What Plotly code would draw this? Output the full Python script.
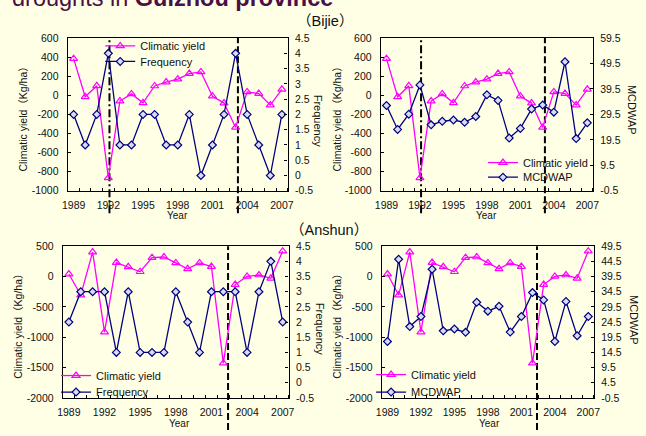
import plotly.graph_objects as go

# ---------------- data ----------------
years = list(range(1989, 2008))
year_ticks = [1989, 1992, 1995, 1998, 2001, 2004, 2007]

bijie_yield = [385, -15, 100, -865, -60, 15, -78, 98, 139, 170, 228, 246, -9, -81, -336, 36, 19, -102, 63]
bijie_freq = [2, 1, 2, 4, 1, 1, 2, 2, 1, 1, 2, 0, 1, 2, 4, 2, 1, 0, 2]
bijie_mcdwap = [33.0, 23.6, 29.6, 41.1, 25.4, 26.8, 27.3, 26.4, 28.7, 37.2, 35.0, 20.2, 24.0, 31.6, 33.2, 30.4, 50.2, 20.0, 26.2]

anshun_yield = [41, -305, 403, -915, 230, 160, 79, 311, 322, 225, 127, 225, 165, -1428, -132, 3, 25, -29, 419]
anshun_freq = [2, 3, 3, 3, 1, 3, 1, 1, 1, 3, 2, 1, 3, 3, 3, 1, 3, 4, 2]
anshun_mcdwap = [18.1, 45.2, 23.0, 26.3, 41.9, 21.6, 22.2, 21.1, 31.0, 28.1, 29.7, 21.2, 26.3, 34.2, 31.8, 18.1, 31.3, 20.0, 26.3]

bijie_drought_dashdot = [1992.1]
bijie_drought_dash = [2003.2]
anshun_drought_dash = [2002.4]

yield_ticks_bijie = [-1000, -800, -600, -400, -200, 0, 200, 400, 600]
yield_ticks_anshun = [-2000, -1500, -1000, -500, 0, 500]
freq_ticks = [-0.5, 0, 0.5, 1, 1.5, 2, 2.5, 3, 3.5, 4, 4.5]
mcdwap_ticks_bijie = [-0.5, 9.5, 19.5, 29.5, 39.5, 49.5, 59.5]
mcdwap_ticks_anshun = [-0.5, 4.5, 9.5, 14.5, 19.5, 24.5, 29.5, 34.5, 39.5, 44.5, 49.5]

# ---------------- styling ----------------
W, H = 646, 436
BG = "#FFFFE6"
FONT = "Arial, Liberation Sans, Noto Sans CJK SC, sans-serif"
MAG = "#FF00FF"
NAVY = "#000080"
TXT = "#111111"


def px(x):
    return x / W


def py(y):
    return 1 - y / H


def fmt(v):
    return "%g" % v


fig = go.Figure()

panels = [
    dict(box=(63, 287, 33, 190), y1=bijie_yield, y2=bijie_freq, name2="Frequency",
         lt=yield_ticks_bijie, lr=[-1000, 600], rt=freq_ticks, rr=[-0.5, 4.5],
         leg=(138, 41, 57)),
    dict(box=(382, 598, 33, 190), y1=bijie_yield, y2=bijie_mcdwap, name2="MCDWAP",
         lt=yield_ticks_bijie, lr=[-1000, 600], rt=mcdwap_ticks_bijie, rr=[-0.5, 59.5],
         leg=(528, 161, 176)),
    dict(box=(58, 288, 247, 403), y1=anshun_yield, y2=anshun_freq, name2="Frequency",
         lt=yield_ticks_anshun, lr=[-2000, 500], rt=freq_ticks, rr=[-0.5, 4.5],
         leg=(93, 380, 397)),
    dict(box=(383, 599, 247, 403), y1=anshun_yield, y2=anshun_mcdwap, name2="MCDWAP",
         lt=yield_ticks_anshun, lr=[-2000, 500], rt=mcdwap_ticks_anshun, rr=[-0.5, 49.5],
         leg=(414, 379, 397)),
]

half_years = [y - 0.5 for y in years] + [years[-1] + 0.5]
LEG_TEXT_OFFSET = 42

for i, p in enumerate(panels, start=1):
    x0, x1, yt, yb = p["box"]
    xa = "x" if i == 1 else "x%d" % i
    ly = 2 * i - 1
    ry = 2 * i
    lya = "y" if ly == 1 else "y%d" % ly
    rya = "y%d" % ry
    leg_a = "legend%d" % (2 * i)
    leg_b = "legend%d" % (2 * i + 1)

    fig.add_trace(go.Scatter(
        x=years, y=p["y1"], name="Climatic yield", mode="lines+markers",
        line=dict(color=MAG, width=1.3),
        marker=dict(symbol="triangle-up-open", size=7, color=MAG, line=dict(width=1.2, color=MAG)),
        xaxis=xa, yaxis=lya, legend=leg_a, showlegend=True))
    fig.add_trace(go.Scatter(
        x=years, y=p["y2"], name=p["name2"], mode="lines+markers",
        line=dict(color=NAVY, width=1.3),
        marker=dict(symbol="diamond", size=6, color="#D8DCF0", line=dict(width=1.2, color=NAVY)),
        xaxis=xa, yaxis=rya, legend=leg_b, showlegend=True))

    xkey = "xaxis" if i == 1 else "xaxis%d" % i
    lkey = "yaxis" if ly == 1 else "yaxis%d" % ly
    rkey = "yaxis%d" % ry

    fig.layout[xkey] = dict(
        domain=[px(x0), px(x1)], anchor=lya, range=[1988.5, 2007.5],
        tickmode="array", tickvals=year_ticks, ticktext=[str(t) for t in year_ticks],
        ticks="", showgrid=False, zeroline=False,
        showline=True, linecolor="black", linewidth=1.4, mirror=True,
        tickfont=dict(size=10.5, color=TXT, family=FONT), ticklabelstandoff=4,
        minor=dict(tickmode="array", tickvals=half_years, ticks="inside", ticklen=3,
                   tickcolor="black", tickwidth=1, showgrid=False),
    )
    fig.layout[lkey] = dict(
        domain=[py(yb), py(yt)], anchor=xa, range=p["lr"],
        tickmode="array", tickvals=p["lt"], ticktext=[fmt(t) for t in p["lt"]],
        ticks="inside", ticklen=3, tickcolor="black", showgrid=False, zeroline=False,
        showline=True, linecolor="black", linewidth=1.4,
        tickfont=dict(size=10.5, color=TXT, family=FONT), ticklabelstandoff=6,
    )
    fig.layout[rkey] = dict(
        overlaying=lya, side="right", anchor=xa, range=p["rr"],
        tickmode="array", tickvals=p["rt"], ticktext=[fmt(t) for t in p["rt"]],
        ticks="inside", ticklen=3, tickcolor="black", showgrid=False, zeroline=False,
        showline=True, linecolor="black", linewidth=1.4,
        tickfont=dict(size=10.5, color=TXT, family=FONT), ticklabelstandoff=4,
    )

    tx, ya_, yb_ = p["leg"]
    for key, yy in ((leg_a, ya_), (leg_b, yb_)):
        fig.layout[key] = dict(
            x=px(tx - LEG_TEXT_OFFSET), y=py(yy), xanchor="left", yanchor="middle",
            bgcolor="rgba(0,0,0,0)", font=dict(size=11, color=TXT, family=FONT),
            itemwidth=30, tracegroupgap=0, visible=True,
        )


def vline(xv, xa, y_top, y_bot, dash):
    fig.add_shape(type="line", xref=xa, yref="paper", x0=xv, x1=xv,
                  y0=py(y_bot), y1=py(y_top),
                  line=dict(color="black", width=2, dash=dash), layer="below")


for xv in bijie_drought_dashdot:
    vline(xv, "x", 33, 213, "8px,3px,2px,3px")
    vline(xv, "x2", 33, 213, "8px,3px,2px,3px")
for xv in bijie_drought_dash:
    vline(xv, "x", 33, 213, "7px,3px")
    vline(xv, "x2", 33, 213, "7px,3px")
for xv in anshun_drought_dash:
    vline(xv, "x3", 247, 436, "7px,3px")
    vline(xv, "x4", 247, 436, "7px,3px")

ann = []
ann.append(dict(text="droughts in <b>Guizhou province</b>", x=px(4), y=py(7), xref="paper", yref="paper",
                xanchor="left", yanchor="bottom", showarrow=False,
                font=dict(size=23.5, color="#4B0E48", family=FONT)))
ann.append(dict(text="（Bijie）", x=px(325), y=py(15), xref="paper", yref="paper",
                xanchor="center", yanchor="middle", showarrow=False,
                font=dict(size=14.5, color=TXT, family=FONT)))
ann.append(dict(text="（Anshun）", x=px(329), y=py(230), xref="paper", yref="paper",
                xanchor="center", yanchor="middle", showarrow=False,
                font=dict(size=14.5, color=TXT, family=FONT)))

left_titles = [(17, 114), (337, 114), (12, 327), (337, 327)]
right_titles = [(318, 118, "Frequency"), (638, 107, "MCDWAP"), (320, 332, "Frequency"), (640, 323, "MCDWAP")]
year_titles = [(175, 215), (490, 215), (177, 429), (493, 429)]
for (x, y) in left_titles:
    ann.append(dict(text="Climatic yield（Kg/ha）", x=px(x), y=py(y), xref="paper", yref="paper",
                    xanchor="center", yanchor="middle", textangle=-90, showarrow=False,
                    font=dict(size=10.5, color=TXT, family=FONT)))
for (x, y, t) in right_titles:
    ann.append(dict(text=t, x=px(x), y=py(y), xref="paper", yref="paper",
                    xanchor="center", yanchor="middle", textangle=90, showarrow=False,
                    font=dict(size=11, color=TXT, family=FONT)))
for (x, y) in year_titles:
    ann.append(dict(text="Year", x=px(x), y=py(y), xref="paper", yref="paper",
                    xanchor="center", yanchor="middle", showarrow=False,
                    font=dict(size=10, color=TXT, family=FONT)))

fig.update_layout(
    width=W, height=H, margin=dict(l=0, r=0, t=0, b=0),
    paper_bgcolor=BG, plot_bgcolor="rgba(0,0,0,0)", showlegend=True,
    annotations=ann, font=dict(family=FONT, color=TXT),
)

fig.write_html(
    "out.html",
    config={"displayModeBar": False},
    post_script="document.body.style.margin='0';document.body.style.background='%s';" % BG,
)
